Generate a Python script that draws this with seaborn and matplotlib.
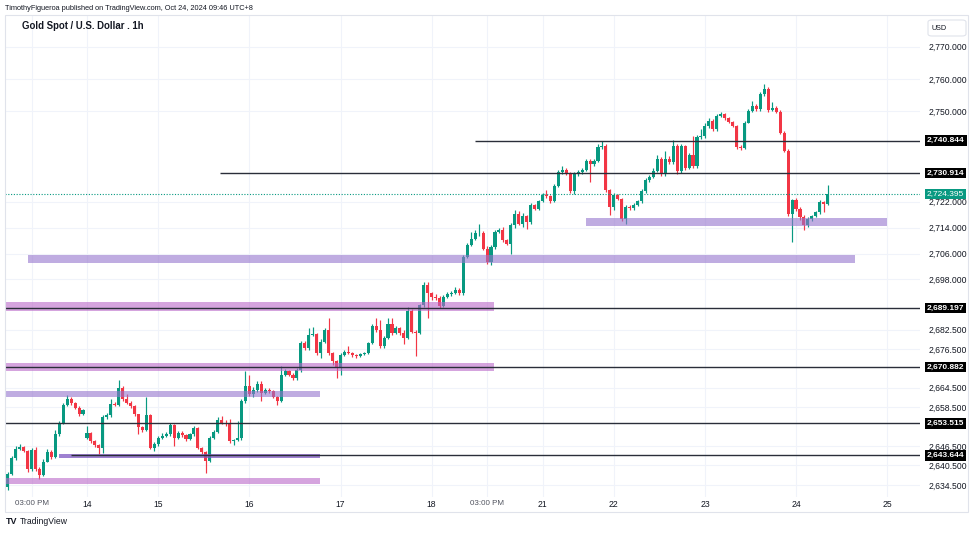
import numpy as np
import pandas as pd
import seaborn as sns
import matplotlib
matplotlib.use("Agg")
import matplotlib.pyplot as plt
import matplotlib.transforms as mtransforms
from matplotlib.patches import Rectangle, FancyBboxPatch

# hourly candles, Oct 11 09:00 -> Oct 24 09:00 (UTC+8), one entry per bar
closes = [
    2637.8, 2642.7, 2645.5, 2646.2, 2645.0, 2639.3, 2645.4, 2639.3, 2637.6, 2641.7,
    2644.8, 2643.1, 2650.1, 2653.7, 2659.3, 2660.9, 2659.9, 2658.3, 2656.3, 2657.5,
    2650.6, 2648.1, 2646.8, 2646.0, 2655.5, 2656.0, 2659.6, 2659.3, 2664.5, 2660.9,
    2659.9, 2658.8, 2656.3, 2652.3, 2651.6, 2656.0, 2646.0, 2647.0, 2649.0, 2649.6,
    2650.1, 2652.9, 2649.1, 2650.6, 2649.8, 2648.6, 2650.1, 2652.1, 2646.0, 2644.5,
    2641.9, 2649.1, 2650.9, 2654.4, 2653.7, 2653.2, 2647.9, 2648.3, 2649.1, 2660.4,
    2665.2, 2662.6, 2663.9, 2665.6, 2663.0, 2663.9, 2663.4, 2661.8, 2660.4, 2668.6,
    2669.6, 2668.6, 2667.5, 2670.1, 2678.3, 2676.8, 2680.9, 2681.2, 2675.2, 2678.8,
    2682.4, 2675.2, 2672.7, 2670.6, 2674.7, 2675.7, 2675.2, 2674.5, 2674.2, 2674.8,
    2675.2, 2678.3, 2683.7, 2682.4, 2677.3, 2679.9, 2684.2, 2681.4, 2682.9, 2681.4,
    2680.0, 2688.3, 2681.9, 2681.4, 2690.0, 2696.3, 2693.7, 2692.7, 2692.2, 2689.9,
    2692.7, 2693.4, 2693.9, 2694.7, 2693.7, 2705.0, 2708.6, 2710.6, 2712.2, 2712.5,
    2707.5, 2703.4, 2708.0, 2712.7, 2713.2, 2710.1, 2709.1, 2714.7, 2718.3, 2715.2,
    2717.6, 2715.6, 2720.9, 2719.8, 2722.1, 2724.1, 2723.9, 2722.1, 2727.0, 2731.3,
    2731.9, 2730.9, 2725.2, 2730.6, 2731.3, 2731.9, 2734.7, 2733.7, 2734.7, 2738.8,
    2739.3, 2725.5, 2720.4, 2724.0, 2723.0, 2716.8, 2720.4, 2720.1, 2721.0, 2722.1,
    2725.2, 2728.6, 2729.6, 2731.6, 2735.2, 2730.6, 2735.2, 2734.2, 2739.3, 2731.6,
    2739.3, 2732.5, 2736.6, 2733.0, 2741.9, 2742.4, 2745.5, 2747.0, 2744.5, 2748.6,
    2749.1, 2747.8, 2746.7, 2745.5, 2738.8, 2738.5, 2746.5, 2750.1, 2751.6, 2750.6,
    2755.2, 2757.0, 2750.4, 2751.1, 2749.8, 2743.4, 2737.8, 2718.3, 2722.4, 2719.9,
    2717.3, 2714.7, 2716.8, 2717.6, 2718.8, 2721.9, 2721.4, 2724.4,
]
highs = [
    2638.5, 2643.3, 2646.5, 2647.0, 2646.5, 2645.3, 2646.0, 2646.2, 2640.0, 2642.5,
    2645.5, 2645.3, 2651.5, 2654.3, 2659.8, 2662.3, 2661.5, 2660.2, 2658.8, 2658.0,
    2652.7, 2650.8, 2648.4, 2647.2, 2656.0, 2656.7, 2661.0, 2660.2, 2667.0, 2665.0,
    2662.5, 2660.3, 2659.3, 2656.5, 2652.6, 2661.5, 2656.5, 2647.6, 2649.6, 2650.5,
    2650.7, 2653.7, 2653.3, 2651.2, 2651.0, 2650.2, 2650.6, 2652.7, 2652.4, 2646.3,
    2644.9, 2649.6, 2651.5, 2655.5, 2655.7, 2654.6, 2655.0, 2648.8, 2654.3, 2661.0,
    2669.6, 2668.5, 2664.6, 2666.5, 2666.6, 2664.5, 2664.3, 2663.8, 2662.0, 2671.1,
    2670.2, 2670.1, 2669.0, 2670.6, 2679.0, 2679.0, 2682.9, 2683.4, 2681.5, 2679.5,
    2683.0, 2686.0, 2675.7, 2673.2, 2675.3, 2676.3, 2677.3, 2675.5, 2675.0, 2675.2,
    2675.7, 2678.8, 2684.3, 2686.0, 2685.5, 2680.5, 2686.2, 2686.2, 2683.5, 2683.4,
    2682.5, 2689.6, 2688.9, 2682.4, 2690.5, 2697.3, 2697.2, 2694.2, 2693.5, 2692.8,
    2693.2, 2694.0, 2694.5, 2695.7, 2695.2, 2705.6, 2709.2, 2712.7, 2713.2, 2715.2,
    2713.0, 2708.3, 2708.6, 2713.3, 2713.9, 2714.2, 2710.5, 2715.3, 2719.5, 2719.0,
    2718.5, 2717.9, 2721.5, 2721.3, 2722.7, 2724.6, 2725.5, 2724.2, 2727.5, 2731.8,
    2733.0, 2732.3, 2731.2, 2731.1, 2731.9, 2732.4, 2735.3, 2735.2, 2735.2, 2739.8,
    2740.9, 2739.8, 2726.0, 2724.6, 2724.5, 2723.3, 2721.0, 2721.0, 2721.6, 2722.7,
    2725.8, 2729.3, 2730.3, 2732.3, 2736.5, 2735.8, 2737.8, 2736.0, 2741.0, 2739.8,
    2740.0, 2739.6, 2737.2, 2742.4, 2742.5, 2744.5, 2746.2, 2748.0, 2747.6, 2749.1,
    2749.7, 2749.4, 2748.2, 2747.0, 2745.8, 2739.5, 2747.0, 2750.6, 2753.2, 2752.3,
    2755.8, 2758.3, 2757.5, 2752.7, 2751.6, 2750.3, 2743.9, 2738.3, 2722.9, 2723.3,
    2720.5, 2717.8, 2717.3, 2718.0, 2719.3, 2722.4, 2722.3, 2727.2,
]
lows = [
    2632.8, 2637.5, 2642.3, 2645.3, 2644.6, 2638.6, 2638.8, 2638.8, 2636.3, 2637.3,
    2641.5, 2642.6, 2642.8, 2649.5, 2653.2, 2659.0, 2659.3, 2657.8, 2655.8, 2656.0,
    2648.6, 2647.5, 2646.3, 2644.0, 2644.3, 2655.0, 2655.5, 2658.9, 2659.0, 2660.4,
    2659.4, 2658.3, 2655.8, 2650.1, 2650.9, 2651.2, 2645.5, 2645.0, 2646.5, 2648.6,
    2649.2, 2649.7, 2646.5, 2648.8, 2649.3, 2648.1, 2648.3, 2649.6, 2645.5, 2643.9,
    2638.3, 2641.5, 2648.7, 2650.5, 2653.2, 2652.6, 2647.3, 2646.9, 2647.9, 2648.5,
    2659.9, 2661.9, 2661.5, 2663.3, 2660.3, 2662.5, 2662.9, 2661.3, 2659.3, 2660.0,
    2668.0, 2668.0, 2667.0, 2667.0, 2669.5, 2676.3, 2676.3, 2680.4, 2674.5, 2673.7,
    2678.3, 2674.6, 2671.5, 2667.5, 2668.5, 2674.2, 2674.8, 2674.1, 2673.7, 2674.0,
    2674.5, 2674.8, 2678.0, 2681.8, 2676.7, 2676.8, 2679.5, 2680.8, 2681.0, 2680.8,
    2678.0, 2679.5, 2681.3, 2674.2, 2681.0, 2689.5, 2686.0, 2691.5, 2691.6, 2689.3,
    2689.5, 2692.3, 2693.0, 2693.6, 2693.3, 2693.3, 2704.5, 2708.2, 2710.1, 2711.5,
    2707.0, 2702.8, 2702.5, 2707.5, 2712.2, 2709.6, 2708.5, 2706.0, 2714.0, 2714.7,
    2714.2, 2713.6, 2715.2, 2719.5, 2719.5, 2722.0, 2723.3, 2721.5, 2721.8, 2726.5,
    2730.7, 2730.3, 2724.6, 2724.4, 2730.1, 2730.5, 2731.5, 2728.1, 2733.2, 2734.2,
    2738.4, 2725.0, 2717.8, 2719.5, 2722.4, 2716.2, 2715.2, 2719.5, 2719.5, 2720.8,
    2721.6, 2724.8, 2728.1, 2729.2, 2731.2, 2730.1, 2730.1, 2733.6, 2733.8, 2730.6,
    2731.0, 2731.8, 2732.0, 2732.5, 2732.5, 2741.3, 2741.8, 2744.9, 2744.0, 2744.0,
    2748.2, 2747.3, 2746.2, 2745.0, 2738.3, 2738.0, 2738.2, 2746.2, 2749.6, 2750.1,
    2750.2, 2754.7, 2749.9, 2750.1, 2749.3, 2742.9, 2737.3, 2717.7, 2709.6, 2719.3,
    2716.5, 2713.2, 2714.1, 2716.0, 2717.2, 2718.3, 2718.8, 2720.9,
]
first_open = 2633.7
gap_opens = {20: 2649.1}          # Monday open after the weekend

date_ticks = [6, 20, 38, 61, 84, 107, 121, 135, 153, 176, 199, 222]
date_labels = ["03:00 PM", "14", "15", "16", "17", "18", "03:00 PM",
               "21", "22", "23", "24", "25"]

price_ticks = [2770, 2760, 2750, 2722, 2714, 2706, 2698, 2682.5, 2676.5,
               2664.5, 2658.5, 2646.5, 2640.5, 2634.5]

# drawn horizontal levels (price, first bar)
levels = [2740.844, 2730.914, 2689.197, 2670.882, 2653.515, 2643.644]
level_from = [118, 53.6, -1, -1, -1, 16]

# shaded zones (low, high, first bar, last bar, kind)
zone_low = [2714.4, 2703.1, 2688.2, 2669.8, 2661.8, 2642.8, 2634.8]
zone_high = [2717.0, 2705.5, 2691.0, 2672.3, 2663.5, 2643.9, 2636.6]
zone_from = [146, 5.1, -1, -1, -1, 13, -1]
zone_to = [222, 213.9, 122.7, 122.7, 78.8, 78.8, 78.8]
zone_kind = ["lav", "lav", "orchid", "orchid", "lav", "dark", "orchid"]

last_price = 2724.395

GREEN = "#089981"
RED = "#F23645"
INK = "#131722"

df = pd.DataFrame({"close": closes, "high": highs, "low": lows})
df["open"] = df["close"].shift(1)
df.loc[0, "open"] = first_open
for k, v in gap_opens.items():
    df.loc[k, "open"] = v
df["up"] = df["close"] >= df["open"]

sns.set_theme(style="white")
plt.rcParams["font.family"] = ["Liberation Sans", "DejaVu Sans"]

W, H = 975, 533
fig = plt.figure(figsize=(W / 100, H / 100), dpi=100)
fig.patch.set_facecolor("white")
ax = fig.add_axes([5 / W, 1 - 497 / H, 915 / W, 482 / H])
ax.set_xlim(-0.7, 230.3)
ax.set_ylim(2630.74, 2779.74)

# grid
for t in price_ticks:
    ax.axhline(t, color="#f0f3fa", lw=0.8, zorder=0)
for t in date_ticks:
    ax.axvline(t, color="#f0f3fa", lw=0.8, zorder=0)

# candles
cols = np.where(df["up"], GREEN, RED)
ax.vlines(df.index, df["low"], df["high"], colors=cols, lw=0.85, zorder=2)
bottom = np.minimum(df["open"], df["close"])
height = np.maximum((df["close"] - df["open"]).abs(), 0.3)
ax.bar(df.index, height, bottom=bottom, width=0.78, color=cols, lw=0, zorder=3)

# zones
zone_style = {"lav": ("#9575cd", 0.6), "orchid": ("#ba68c8", 0.6), "dark": ("#7e57c2", 0.75)}
for lo, hi, x0, x1, kind in zip(zone_low, zone_high, zone_from, zone_to, zone_kind):
    fc, a = zone_style[kind]
    ax.add_patch(Rectangle((x0, lo), x1 - x0, hi - lo, facecolor=fc, alpha=a, lw=0, zorder=4))

# levels
for lv, x0 in zip(levels, level_from):
    ax.hlines(lv, x0, 231, color="#2a2e39", lw=1.0, zorder=5)

ax.axhline(last_price, color=GREEN, lw=0.8, ls=(0, (1, 1.5)), zorder=5)

# axes styling
for s in ax.spines.values():
    s.set_visible(False)
ax.yaxis.tick_right()
ax.set_yticks(price_ticks)
ax.set_yticklabels([f"{t:,.3f}" for t in price_ticks])
ax.tick_params(axis="y", length=0, pad=6, labelsize=6.2, labelcolor=INK)
ax.set_xticks(date_ticks)
ax.set_xticklabels(date_labels)
ax.tick_params(axis="x", length=0, pad=2.5, labelsize=6.2, labelcolor=INK)
for lab in ax.get_xticklabels():
    if "PM" in lab.get_text():
        lab.set_color("#50535e")
        lab.set_fontsize(5.8)
ax.grid(False)

# price labels on the axis
trans = mtransforms.blended_transform_factory(ax.transAxes, ax.transData)
for lv in levels:
    ax.text(1 + 7 / 915, lv, f"{lv:,.3f}", transform=trans, ha="left", va="center",
            fontsize=6.0, fontweight="bold", color="white", clip_on=False, zorder=10,
            bbox=dict(boxstyle="square,pad=0.22", fc="black", ec="none"))
ax.text(1 + 7 / 915, last_price, f"{last_price:,.3f}", transform=trans, ha="left",
        va="center", fontsize=6.0, color="white", clip_on=False, zorder=10,
        bbox=dict(boxstyle="square,pad=0.22", fc=GREEN, ec="none"))

# frame around the chart
fig.patches.append(Rectangle((5 / W, 1 - 512 / H), 963 / W, 497 / H, transform=fig.transFigure,
                             fill=False, ec="#e0e3eb", lw=0.8))

fig.text(5 / W, 1 - 8 / H, "TimothyFigueroa published on TradingView.com, Oct 24, 2024 09:46 UTC+8",
         fontsize=5.3, color=INK, va="center", ha="left")
fig.text(22 / W, 1 - 26 / H, "Gold Spot / U.S. Dollar . 1h", fontsize=6.9,
         fontweight="bold", color=INK, va="center", ha="left")

# currency box
fig.patches.append(FancyBboxPatch((928 / W, 1 - 36 / H), 38 / W, 16 / H, transform=fig.transFigure,
                                  boxstyle="round,pad=0,rounding_size=0.004",
                                  fc="white", ec="#e0e3eb", lw=0.8))
fig.text(932 / W, 1 - 28 / H, "USD", fontsize=5.2, color=INK, va="center", ha="left")

fig.text(6 / W, 1 - 522 / H, "TV", fontsize=6.5, fontweight="bold", color=INK, va="center", ha="left")
fig.text(20 / W, 1 - 522 / H, "TradingView", fontsize=6.2, color=INK, va="center", ha="left")

fig.savefig("out.png", dpi=100, facecolor="white")
